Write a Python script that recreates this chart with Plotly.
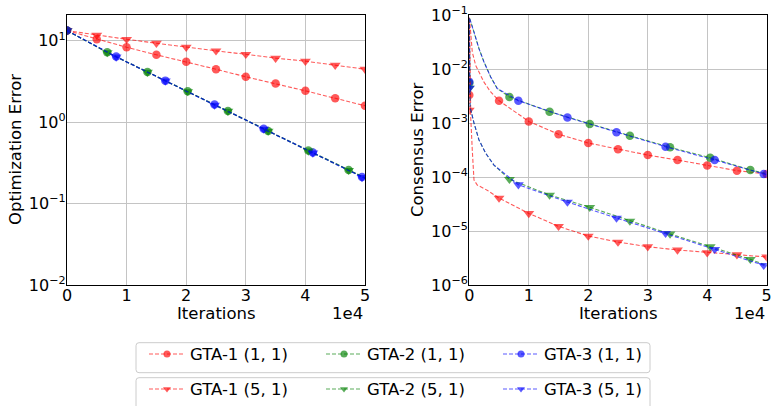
import plotly.graph_objects as go

W, H = 772, 406

# ---------------- data ----------------
iters_gta1 = [0, 5000, 10000, 15000, 20000, 25000, 30000, 35000, 40000, 45000, 50000]
iters_gta2 = [0, 6750, 13500, 20250, 27000, 33750, 40500, 47250]
iters_gta3 = [0, 8250, 16500, 24750, 33000, 41250, 49500]
iter_end = 50000

x_tick_vals = [0, 10000, 20000, 30000, 40000, 50000]
x_tick_text = ["0", "1", "2", "3", "4", "5"]
opt_tick_vals = [0.01, 0.1, 1, 10]
opt_tick_text = ["10<sup>\u22122</sup>", "10<sup>\u22121</sup>", "10<sup>0</sup>", "10<sup>1</sup>"]
cons_tick_vals = [1e-6, 1e-5, 1e-4, 1e-3, 1e-2, 1e-1]
cons_tick_text = ["10<sup>\u22126</sup>", "10<sup>\u22125</sup>", "10<sup>\u22124</sup>",
                  "10<sup>\u22123</sup>", "10<sup>\u22122</sup>", "10<sup>\u22121</sup>"]

# Optimization error (marker values)
opt_gta1_11 = [13.3, 10.4, 8.3, 6.7, 5.5, 4.46, 3.6, 2.97, 2.42, 1.96, 1.59]
opt_gta1_51 = [13.3, 11.7, 10.4, 9.3, 8.3, 7.5, 6.8, 6.1, 5.6, 5.0, 4.46]
opt_gta2_11 = [13.3, 7.2, 4.13, 2.39, 1.37, 0.78, 0.447, 0.259]
opt_gta2_51 = [13.3, 7.15, 4.1, 2.37, 1.36, 0.775, 0.442, 0.256]
opt_gta3_11 = [13.3, 6.37, 3.23, 1.64, 0.83, 0.423, 0.212]
opt_gta3_51 = [13.3, 6.3, 3.2, 1.62, 0.82, 0.418, 0.209]
opt_end_gta2_11 = 0.208
opt_end_gta2_51 = 0.206
opt_end_gta3_11 = 0.205
opt_end_gta3_51 = 0.203

# Consensus error (marker values)
cons_gta1_11 = [3.3e-3, 2.59e-3, 1.07e-3, 6.2e-4, 4.26e-4, 3.25e-4, 2.55e-4, 2.06e-4, 1.64e-4, 1.31e-4, 1.14e-4]
cons_gta1_51 = [1.74e-3, 4.08e-5, 2.12e-5, 1.22e-5, 8.07e-6, 6.25e-6, 5.12e-6, 4.45e-6, 3.97e-6, 3.65e-6, 3.3e-6]
cons_gta2_11 = [5.5e-3, 3.03e-3, 1.62e-3, 9.57e-4, 5.82e-4, 3.55e-4, 2.28e-4, 1.35e-4]
cons_gta2_51 = [4.4e-3, 9.06e-5, 4.64e-5, 2.75e-5, 1.53e-5, 8.8e-6, 5.13e-6, 2.99e-6]
cons_gta3_11 = [5.8e-3, 2.59e-3, 1.27e-3, 6.76e-4, 3.64e-4, 2.07e-4, 1.14e-4]
cons_gta3_51 = [4.4e-3, 7.2e-5, 3.44e-5, 1.74e-5, 9.05e-6, 4.58e-6, 2.32e-6]

# Consensus error: early part of the full curves (before the first marker after 0)
early_x_gta1_11 = [20, 230, 500, 1070, 2470, 3600]
early_y_gta1_11 = [0.09, 0.048, 0.0207, 0.0117, 5.7e-3, 3.75e-3]
early_x_gta1_51 = [20, 150, 250, 500, 790, 1340, 3000]
early_y_gta1_51 = [0.09, 0.01, 1.2e-3, 3.2e-4, 8.8e-5, 7.1e-5, 5.7e-5]
early_x_gta23_11 = [15, 790, 1630, 2470, 3600, 4700]
early_y_gta23_11 = [0.09, 0.048, 0.0238, 0.0135, 7.1e-3, 4.35e-3]
early_x_gta23_51 = [15, 120, 790, 1630, 2760, 4150]
early_y_gta23_51 = [0.09, 2e-3, 1e-3, 4.84e-4, 2.75e-4, 1.66e-4]
cons_end_gta2_11 = 1.15e-4
cons_end_gta2_51 = 2.3e-6
cons_end_gta3_11 = 1.1e-4
cons_end_gta3_51 = 2.25e-6

labels_11 = ["GTA-1 (1, 1)", "GTA-2 (1, 1)", "GTA-3 (1, 1)"]
labels_51 = ["GTA-1 (5, 1)", "GTA-2 (5, 1)", "GTA-3 (5, 1)"]

# ---------------- styles ----------------
RED = "rgba(255,0,0,0.65)"
GREEN = "rgba(0,128,0,0.65)"
BLUE = "rgba(0,0,255,0.65)"
FONT = "DejaVu Sans"
DASH = "4px,2px"

fig = go.Figure()


def add_series(xa, ya, line_x, line_y, mx, my, color, symbol):
    fig.add_trace(go.Scatter(x=line_x, y=line_y, mode="lines", xaxis=xa, yaxis=ya,
                             line=dict(color=color, width=1.1, dash=DASH),
                             showlegend=False, hoverinfo="skip"))
    fig.add_trace(go.Scatter(x=mx, y=my, mode="markers", xaxis=xa, yaxis=ya,
                             marker=dict(color=color, size=8.5 if symbol == "circle" else 9.5,
                                         symbol=symbol, line=dict(width=0)),
                             showlegend=False))


def with_end(xs, ys, end_y):
    if xs[-1] < iter_end:
        return xs + [iter_end], ys + [end_y]
    return xs, ys


left = [
    (iters_gta1, opt_gta1_11, opt_gta1_11[-1], RED, "circle"),
    (iters_gta2, opt_gta2_11, opt_end_gta2_11, GREEN, "circle"),
    (iters_gta3, opt_gta3_11, opt_end_gta3_11, BLUE, "circle"),
    (iters_gta1, opt_gta1_51, opt_gta1_51[-1], RED, "triangle-down"),
    (iters_gta2, opt_gta2_51, opt_end_gta2_51, GREEN, "triangle-down"),
    (iters_gta3, opt_gta3_51, opt_end_gta3_51, BLUE, "triangle-down"),
]
for xs, ys, end_y, col, sym in left:
    lx, ly = with_end(xs, ys, end_y)
    add_series("x", "y", lx, ly, xs, ys, col, sym)

right = [
    (iters_gta1, cons_gta1_11, early_x_gta1_11, early_y_gta1_11, cons_gta1_11[-1], RED, "circle"),
    (iters_gta2, cons_gta2_11, early_x_gta23_11, early_y_gta23_11, cons_end_gta2_11, GREEN, "circle"),
    (iters_gta3, cons_gta3_11, early_x_gta23_11, early_y_gta23_11, cons_end_gta3_11, BLUE, "circle"),
    (iters_gta1, cons_gta1_51, early_x_gta1_51, early_y_gta1_51, cons_gta1_51[-1], RED, "triangle-down"),
    (iters_gta2, cons_gta2_51, early_x_gta23_51, early_y_gta23_51, cons_end_gta2_51, GREEN, "triangle-down"),
    (iters_gta3, cons_gta3_51, early_x_gta23_51, early_y_gta23_51, cons_end_gta3_51, BLUE, "triangle-down"),
]
for xs, ys, ex, ey, end_y, col, sym in right:
    lx = [xs[0]] + ex + xs[1:]
    ly = [ys[0]] + ey + ys[1:]
    lx, ly = with_end(lx, ly, end_y)
    add_series("x2", "y2", lx, ly, xs, ys, col, sym)

for name, col in zip(labels_11, [RED, GREEN, BLUE]):
    fig.add_trace(go.Scatter(x=[None], y=[None], mode="lines+markers", name=name,
                             line=dict(color=col, width=1.1, dash=DASH),
                             marker=dict(color=col, size=7, symbol="circle"),
                             legend="legend"))
for name, col in zip(labels_51, [RED, GREEN, BLUE]):
    fig.add_trace(go.Scatter(x=[None], y=[None], mode="lines+markers", name=name,
                             line=dict(color=col, width=1.1, dash=DASH),
                             marker=dict(color=col, size=7, symbol="triangle-down"),
                             legend="legend2"))

x1 = [67 / W, 365 / W]
x2 = [469.3 / W, 766.7 / W]
ydom = [(H - 285) / H, (H - 15) / H]

axis_common = dict(showgrid=True, gridcolor="#c4c4c4", gridwidth=1, showline=True, mirror=True,
                   linecolor="black", linewidth=1.3, zeroline=False, ticks="",
                   tickfont=dict(family=FONT, size=16, color="black"))
xaxis_common = dict(range=[0, 50000], tickvals=x_tick_vals, ticktext=x_tick_text,
                    ticklabelstandoff=-4, **axis_common)

legend_common = dict(orientation="h", x=144 / W, xanchor="left", yanchor="top",
                     bgcolor="rgba(0,0,0,0)", borderwidth=0, itemwidth=36,
                     entrywidth=126, entrywidthmode="pixels",
                     font=dict(family=FONT, size=16.5, color="black"))

fig.update_layout(
    width=W, height=H, margin=dict(l=0, r=0, t=0, b=0, autoexpand=False),
    paper_bgcolor="white", plot_bgcolor="white",
    font=dict(family=FONT, size=16, color="black"),
    xaxis=dict(domain=x1, anchor="y", **xaxis_common),
    yaxis=dict(domain=ydom, type="log", range=[-2, 1.315], tickvals=opt_tick_vals,
               ticktext=opt_tick_text, anchor="x", ticklabelstandoff=-3, **axis_common),
    xaxis2=dict(domain=x2, anchor="y2", **xaxis_common),
    yaxis2=dict(domain=ydom, type="log", range=[-6, -1], tickvals=cons_tick_vals,
                ticktext=cons_tick_text, anchor="x2", ticklabelstandoff=-3, **axis_common),
    legend=dict(y=1 - 336.7 / H, **legend_common),
    legend2=dict(y=1 - 371.7 / H, **legend_common),
    showlegend=True,
)


# legend frames (rounded boxes) as shapes, in paper coordinates
def rounded_box(x0, y0, x1_, y1_, r):
    def P(px, py):
        return f"{px / W:.5f},{1 - py / H:.5f}"
    return (f"M {P(x0 + r, y0)} L {P(x1_ - r, y0)} Q {P(x1_, y0)} {P(x1_, y0 + r)} "
            f"L {P(x1_, y1_ - r)} Q {P(x1_, y1_)} {P(x1_ - r, y1_)} "
            f"L {P(x0 + r, y1_)} Q {P(x0, y1_)} {P(x0, y1_ - r)} "
            f"L {P(x0, y0 + r)} Q {P(x0, y0)} {P(x0 + r, y0)} Z")


shapes = [
    dict(type="path", xref="paper", yref="paper", path=rounded_box(136, 342.7, 650, 372.7, 3),
         line=dict(color="#cccccc", width=1), fillcolor="white", layer="above"),
    dict(type="path", xref="paper", yref="paper", path=rounded_box(136, 377.7, 650, 412, 3),
         line=dict(color="#cccccc", width=1), fillcolor="white", layer="above"),
]
fig.update_layout(shapes=shapes)

ann = []
for cx, right_edge in [((67 + 365) / 2, 365), ((469.3 + 766.7) / 2, 766.7)]:
    ann.append(dict(text="Iterations", x=cx / W, y=1 - 313 / H, xref="paper", yref="paper",
                    showarrow=False, xanchor="center", yanchor="middle",
                    font=dict(family=FONT, size=16.5, color="black")))
    ann.append(dict(text="1e4", x=right_edge / W, y=1 - 313 / H, xref="paper", yref="paper",
                    showarrow=False, xanchor="right", yanchor="middle",
                    font=dict(family=FONT, size=16.5, color="black")))
ann.append(dict(text="Optimization Error", x=15 / W, y=1 - 150 / H, xref="paper", yref="paper",
                showarrow=False, textangle=-90, xanchor="center", yanchor="middle",
                font=dict(family=FONT, size=16.5, color="black")))
ann.append(dict(text="Consensus Error", x=417 / W, y=1 - 150 / H, xref="paper", yref="paper",
                showarrow=False, textangle=-90, xanchor="center", yanchor="middle",
                font=dict(family=FONT, size=16.5, color="black")))
fig.update_layout(annotations=ann)

fig.write_html("out.html", config={"displayModeBar": False},
               post_script="document.body.style.margin='0px';")
